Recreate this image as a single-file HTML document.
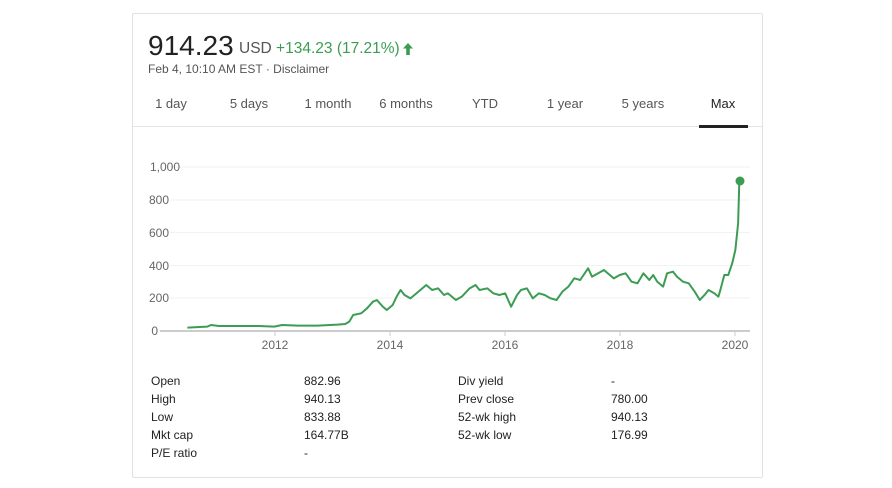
<!DOCTYPE html>
<html><head><style>
body{margin:0;width:892px;height:488px;background:#fff;font-family:"Liberation Sans",Arial,sans-serif;position:relative;overflow:hidden}
.card{position:absolute;left:132px;top:13px;width:629px;height:463px;border:1px solid #dfe1e5;border-radius:2px}
.a{position:absolute;white-space:nowrap}
.tab{position:absolute;top:96px;font-size:13px;color:#555;transform:translateX(-50%)}
.t{position:absolute;font-size:12px;color:#222}
</style></head><body>
<div class="card"></div>
<div class="a" style="left:148px;top:30px;font-size:28px;color:#222">914.23</div>
<div class="a" style="left:239px;top:40px;font-size:15.5px;color:#555">USD <span style="color:#3c9c53">+134.23 (17.21%)</span></div>
<svg class="a" style="left:402px;top:42px" width="12" height="14"><path d="M6 1 L11 6.5 H7.8 V13 H4.2 V6.5 H1 Z" fill="#3c9c53"/></svg>
<div class="a" style="left:148px;top:62px;font-size:12px;color:#555">Feb 4, 10:10 AM EST · Disclaimer</div>
<div class="tab" style="left:171px">1 day</div>
<div class="tab" style="left:249px">5 days</div>
<div class="tab" style="left:328px">1 month</div>
<div class="tab" style="left:406px">6 months</div>
<div class="tab" style="left:485px">YTD</div>
<div class="tab" style="left:565px">1 year</div>
<div class="tab" style="left:643px">5 years</div>
<div class="tab" style="left:723px;color:#222">Max</div>
<div class="a" style="left:133px;top:126px;width:629px;height:1px;background:#e5e5e5"></div>
<div class="a" style="left:699px;top:125px;width:49px;height:3px;background:#222"></div>
<svg class="a" style="left:0;top:0" width="892" height="488">
<g stroke="#f2f2f2" stroke-width="1">
<line x1="170" x2="750" y1="167" y2="167"/><line x1="170" x2="750" y1="200" y2="200"/><line x1="170" x2="750" y1="232.5" y2="232.5"/><line x1="170" x2="750" y1="265.5" y2="265.5"/><line x1="170" x2="750" y1="298" y2="298"/>
</g>
<line x1="160" x2="750" y1="331" y2="331" stroke="#ccc" stroke-width="2"/>
<g stroke="#ccc"><line x1="275" x2="275" y1="331" y2="336"/><line x1="390" x2="390" y1="331" y2="336"/><line x1="505" x2="505" y1="331" y2="336"/><line x1="620" x2="620" y1="331" y2="336"/><line x1="735" x2="735" y1="331" y2="336"/></g>
<g font-size="12" fill="#666" text-anchor="end" font-family="Liberation Sans,Arial,sans-serif">
<text x="180" y="171">1,000</text><text x="169" y="204">800</text><text x="169" y="237">600</text><text x="169" y="270">400</text><text x="169" y="302">200</text><text x="158" y="335">0</text>
</g>
<g font-size="12" fill="#666" text-anchor="middle" font-family="Liberation Sans,Arial,sans-serif">
<text x="275" y="349">2012</text><text x="390" y="349">2014</text><text x="505" y="349">2016</text><text x="620" y="349">2018</text><text x="735" y="349">2020</text>
</g>
<g transform="translate(140,150) scale(0.3948,0.33333)">
<polyline fill="none" stroke="#3c9c53" stroke-width="2" vector-effect="non-scaling-stroke" stroke-linejoin="round" points="120,533 170,530 180,525 200,528 250,528 300,528 340,530 360,525 400,527 450,527 500,524 520,522 530,515 540,495 560,490 575,475 590,455 600,450 615,470 625,480 640,465 650,440 660,420 670,435 685,445 700,430 715,415 725,405 740,420 755,415 770,435 780,430 800,450 815,440 835,415 850,405 860,420 880,415 895,430 910,435 925,430 940,470 955,435 965,420 980,415 995,445 1010,430 1025,435 1040,445 1055,450 1070,425 1085,410 1100,385 1115,390 1135,355 1145,380 1160,370 1175,360 1190,375 1200,385 1215,375 1230,370 1245,395 1260,400 1275,370 1290,390 1300,375 1310,395 1325,410 1335,370 1350,365 1360,380 1375,395 1390,400 1405,425 1418,450 1430,435 1440,420 1455,430 1465,440 1470,420 1480,375 1490,375 1500,340 1508,300 1515,220 1518,95"/>
</g>
<circle cx="740" cy="181" r="4.5" fill="#3c9c53"/>
</svg>
<div class="t" style="left:151px;top:374px">Open</div><div class="t" style="left:304px;top:374px">882.96</div><div class="t" style="left:458px;top:374px">Div yield</div><div class="t" style="left:611px;top:374px">-</div>
<div class="t" style="left:151px;top:392px">High</div><div class="t" style="left:304px;top:392px">940.13</div><div class="t" style="left:458px;top:392px">Prev close</div><div class="t" style="left:611px;top:392px">780.00</div>
<div class="t" style="left:151px;top:410px">Low</div><div class="t" style="left:304px;top:410px">833.88</div><div class="t" style="left:458px;top:410px">52-wk high</div><div class="t" style="left:611px;top:410px">940.13</div>
<div class="t" style="left:151px;top:428px">Mkt cap</div><div class="t" style="left:304px;top:428px">164.77B</div><div class="t" style="left:458px;top:428px">52-wk low</div><div class="t" style="left:611px;top:428px">176.99</div>
<div class="t" style="left:151px;top:446px">P/E ratio</div><div class="t" style="left:304px;top:446px">-</div>
</body></html>
